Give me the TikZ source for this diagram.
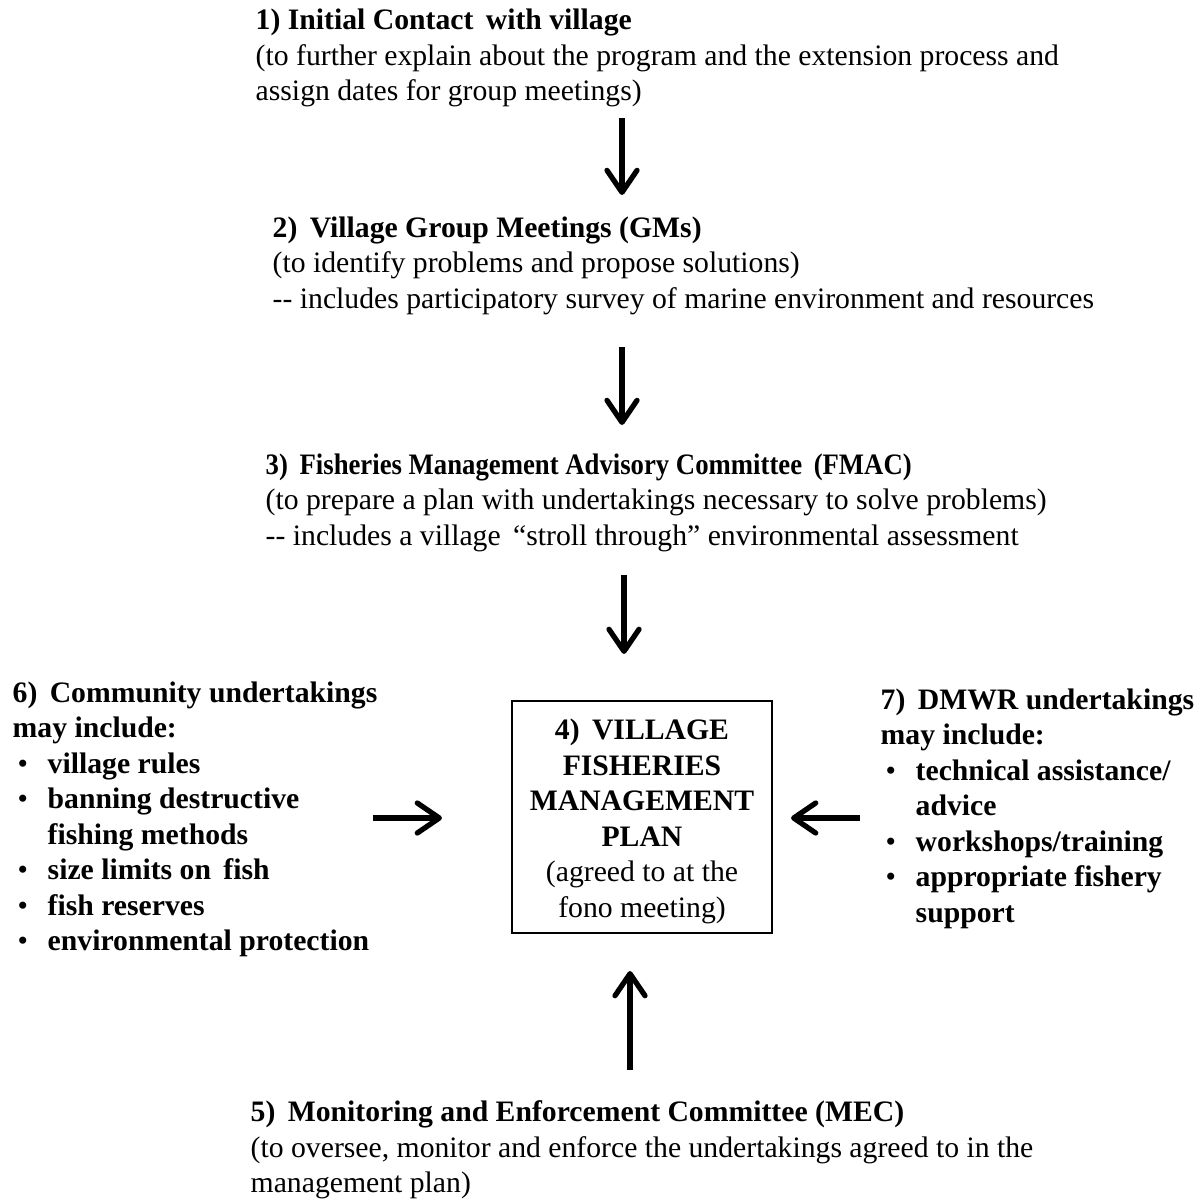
\documentclass[tikz,border=0pt]{standalone}
\usepackage{fontspec}
\setmainfont{Liberation Serif}
\newfontfamily\narrowfont[FakeStretch=0.9]{Liberation Serif}
\usetikzlibrary{arrows.meta}
\newcommand{\itm}{\makebox[0.35cm][l]{\hspace{0.05cm}\normalfont\textbullet}}
\newcommand{\gap}{\hspace*{0.35cm}}

\begin{document}
\begin{tikzpicture}[
  txt/.style={inner sep=0pt,anchor=north west,align=left,
    font=\fontsize{8.45}{10.1}\selectfont},
  flow/.style={line width=1.5pt,-{Straight Barb[length=0.22cm,width=0.3cm,round]}}]
\useasboundingbox (0,0) rectangle (12.01,-11.98);
% the steps, top to bottom
\node[txt] (contact) at (2.55,-0.085) {\textbf{1) Initial Contact\, with village}\\
  (to further explain about the program and the extension process and\\
  assign dates for group meetings)};
\node[txt] (groups) at (2.72,-2.16) {\textbf{2)\, Village Group Meetings (GMs)}\\
  (to identify problems and propose solutions)\\
  -{}- includes participatory survey of marine environment and resources};
\node[txt] (fmac) at (2.65,-4.53)
  {\textbf{\narrowfont 3)\, Fisheries Management Advisory Committee\, (FMAC)}\\
  (to prepare a plan with undertakings necessary to solve problems)\\
  -{}- includes a village\, “stroll through” environmental assessment};
% the plan in the middle
\node[draw,line width=0.6pt,minimum width=2.6cm,minimum height=2.32cm,align=center,
  inner sep=0pt,font=\fontsize{8.45}{10.1}\selectfont] (plan) at (6.42,-8.17)
  {\rule{0pt}{8.4pt}\textbf{4)\, VILLAGE}\\ \textbf{FISHERIES}\\ \textbf{MANAGEMENT}\\
  \textbf{PLAN}\\ (agreed to at the\\ fono meeting)};
% undertakings on either side
\node[txt,font=\fontsize{8.45}{10.1}\selectfont\bfseries] (community) at (0.12,-6.81)
  {6)\, Community undertakings\\ may include:\\
  \itm village rules\\ \itm banning destructive\\ \gap fishing methods\\
  \itm size limits on\, fish\\ \itm fish reserves\\ \itm environmental protection};
\node[txt,font=\fontsize{8.45}{10.1}\selectfont\bfseries] (dmwr) at (8.80,-6.88)
  {7)\, DMWR undertakings\\ may include:\\
  \itm technical assistance/\\ \gap advice\\ \itm workshops/training\\
  \itm appropriate fishery\\ \gap support};
\node[txt] (mec) at (2.50,-11.00) {\textbf{5)\, Monitoring and Enforcement Committee (MEC)}\\
  (to oversee, monitor and enforce the undertakings agreed to in the\\
  management plan)};
% arrows
\coordinate (t1) at (6.22,-1.18);
\coordinate (t2) at (6.22,-3.47);
\coordinate (t3) at (6.24,-5.75);
\coordinate (t6) at (3.73,-8.18);
\coordinate (t7) at (8.60,-8.18);
\coordinate (t5) at (6.30,-10.70);
\draw[flow,shorten >=0.21cm] (t1) -- (groups.north -| t1);
\draw[flow,shorten >=0.28cm] (t2) -- (fmac.north -| t2);
\draw[flow,shorten >=0.46cm] (t3) -- (plan.north -| t3);
\draw[flow,shorten >=0.69cm] (t6) -- (plan.west |- t6);
\draw[flow,shorten >=0.18cm] (t7) -- (plan.east |- t7);
\draw[flow,shorten >=0.37cm] (t5) -- (plan.south -| t5);
\end{tikzpicture}
\end{document}
